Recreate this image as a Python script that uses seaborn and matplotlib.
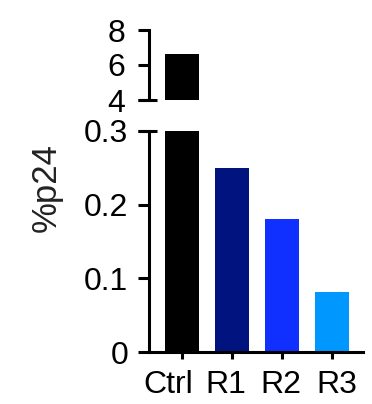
import matplotlib
matplotlib.use("Agg")
import matplotlib.pyplot as plt
import matplotlib.transforms as mtransforms
import seaborn as sns
import pandas as pd

categories = ["Ctrl", "R1", "R2", "R3"]
values = [6.63, 0.25, 0.18, 0.082]
colors = ["#000000", "#00137F", "#1030FF", "#0098FF"]
top_ticks = [4, 6, 8]
bot_ticks = [0, 0.1, 0.2, 0.3]
bot_ticklabels = ["0", "0.1", "0.2", "0.3"]
ylabel = "%p24"

sns.set_theme(style="ticks")
plt.rcParams['font.family'] = ['Liberation Sans', 'DejaVu Sans']
plt.rcParams.update({"axes.edgecolor": "black", "text.color": "black",
                     "xtick.color": "black", "ytick.color": "black",
                     "axes.labelcolor": "black"})

FS = 23
LW = 2.2
W, H = 372, 404
fig = plt.figure(figsize=(W / 100, H / 100), dpi=100)
ax_top = fig.add_axes([149 / W, 1 - 100 / H, 214 / W, 70 / H])
ax_bot = fig.add_axes([149 / W, 1 - 352 / H, 214 / W, 221 / H])

df = pd.DataFrame({"group": categories, "value": values})
for ax in (ax_top, ax_bot):
    sns.barplot(data=df, x="group", y="value", hue="group", palette=colors,
                width=0.68, ax=ax, legend=False, linewidth=0, saturation=1)
    ax.set_xlim(-0.66, 3.62)
    ax.set_xlabel("")
    ax.set_ylabel("")
    for s in ("top", "right"):
        ax.spines[s].set_visible(False)
    ax.spines["left"].set_linewidth(LW)
    ax.spines["bottom"].set_linewidth(LW)

# top panel
ax_top.set_ylim(4, 8)
ax_top.set_yticks(top_ticks)
ax_top.set_yticklabels([str(t) for t in top_ticks], fontsize=FS)
ax_top.spines["bottom"].set_visible(False)
ax_top.set_xticks([])
ax_top.tick_params(axis="y", length=8, width=LW, pad=9, colors="black")

# bottom panel
ax_bot.set_ylim(0, 0.3)
ax_bot.set_yticks(bot_ticks)
ax_bot.set_yticklabels(bot_ticklabels, fontsize=FS)
ax_bot.tick_params(axis="y", length=8, width=LW, pad=7, colors="black")
ax_bot.tick_params(axis="x", length=5, width=LW, pad=8, labelsize=FS, colors="black")

# slight horizontal label offsets as in the reference
for lab, dx in zip(ax_bot.get_xticklabels(), [-14, -6, -1, 5]):
    lab.set_transform(lab.get_transform() +
                      mtransforms.ScaledTranslation(dx / 100, 0, fig.dpi_scale_trans))

# break caps
for ax, yy in ((ax_top, 0), (ax_bot, 1)):
    ax.plot([-11 / 214, 8 / 214], [yy, yy], transform=ax.transAxes, color="black",
            lw=LW, clip_on=False, solid_capstyle="butt")

fig.text(46 / W, 1 - 188 / H, ylabel, rotation=90, ha="center", va="center",
         fontsize=25, color="#222222")

fig.savefig("out.png", dpi=100)
